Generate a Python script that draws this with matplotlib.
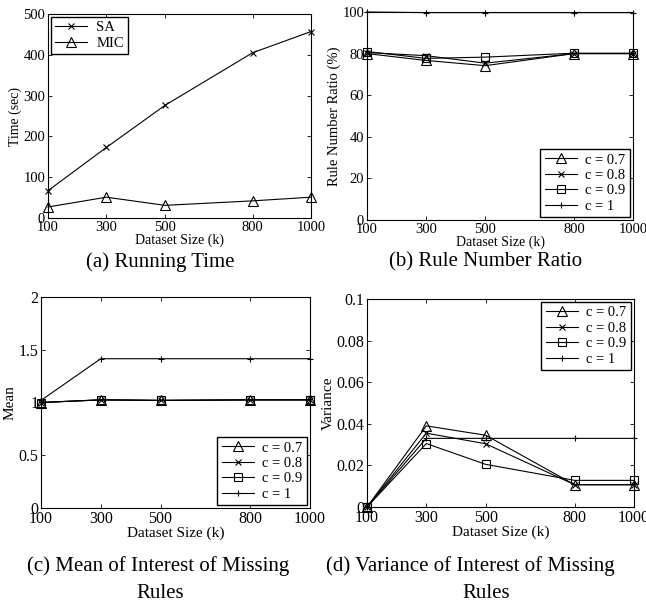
import matplotlib
matplotlib.use("Agg")
import matplotlib.pyplot as plt

plt.rcParams['font.family'] = ['Liberation Serif', 'DejaVu Serif']
plt.rcParams['mathtext.fontset'] = 'stix'

sizes = [100, 300, 500, 800, 1000]

# (a) running time
time_sa = [67, 173, 276, 405, 457]
time_mic = [27, 51, 31, 42, 51]

conf_labels = ['c = 0.7', 'c = 0.8', 'c = 0.9', 'c = 1']

# (b) rule number ratio (%)
ratio = [
    [80.0, 76.7, 74.2, 80.0, 80.0],
    [80.5, 79.0, 75.4, 80.0, 80.0],
    [81.0, 77.7, 78.3, 80.2, 80.2],
    [100.0, 99.7, 99.7, 99.7, 99.7],
]

# (c) mean of interest of missing rules
mean_vals = [
    [1.0, 1.025, 1.02, 1.025, 1.025],
    [1.0, 1.025, 1.02, 1.025, 1.025],
    [1.0, 1.025, 1.02, 1.025, 1.025],
    [1.02, 1.415, 1.415, 1.415, 1.415],
]

# (d) variance of interest of missing rules
var_vals = [
    [0.0, 0.039, 0.0345, 0.0107, 0.0107],
    [0.0, 0.0355, 0.0304, 0.0107, 0.0107],
    [0.0, 0.0305, 0.0205, 0.0128, 0.0128],
    [0.0, 0.033, 0.033, 0.033, 0.033],
]

markers = ['^', 'x', 's', '+']
W, H = 646, 606


def make_ax(fig, l, t, r, b, fs=10.5, lfs=10):
    ax = fig.add_axes([l / W, 1 - b / H, (r - l) / W, (b - t) / H])
    ax.tick_params(direction='in', top=True, right=True, labelsize=fs,
                   pad=2, length=3, width=0.6)
    for s in ax.spines.values():
        s.set_linewidth(0.8)
    ax.set_xlim(100, 1000)
    ax.set_xticks(sizes)
    ax.set_xlabel('Dataset Size (k)', fontsize=lfs, labelpad=0)
    return ax


def draw_series(ax, data):
    for vals, m, lab in zip(data, markers, conf_labels):
        mfc = 'none' if m in ('^', 's') else 'k'
        ms = 6.5 if m == '^' else (5.5 if m == 's' else 5)
        ax.plot(sizes, vals, color='k', lw=0.8, marker=m, ms=ms,
                mfc=mfc, mec='k', mew=0.8, label=lab, clip_on=False)


def legend(ax, loc, fs=10.5):
    lg = ax.legend(loc=loc, fontsize=fs, fancybox=False, edgecolor='k',
                   framealpha=1, borderpad=0.3, labelspacing=0.15,
                   handlelength=2.2, handletextpad=0.6, borderaxespad=0.2)
    lg.get_frame().set_linewidth(1.0)


fig = plt.figure(figsize=(W / 100, H / 100), dpi=100)

# (a)
ax = make_ax(fig, 48, 14, 311, 218)
ax.plot(sizes, time_sa, color='k', lw=0.8, marker='x', ms=5, mew=0.8,
        label='SA', clip_on=False)
ax.plot(sizes, time_mic, color='k', lw=0.8, marker='^', ms=6.5, mfc='none',
        mew=0.8, label='MIC', clip_on=False)
ax.set_ylim(0, 500)
ax.set_yticks([0, 100, 200, 300, 400, 500])
ax.set_ylabel('Time (sec)', fontsize=10, labelpad=1)
legend(ax, 'upper left')

# (b)
ax = make_ax(fig, 367, 12, 633, 220)
draw_series(ax, ratio)
ax.set_ylim(0, 100)
ax.set_yticks([0, 20, 40, 60, 80, 100])
ax.set_ylabel('Rule Number Ratio (%)', fontsize=10.5, labelpad=1)
legend(ax, 'lower right')

# (c)
ax = make_ax(fig, 41, 297, 310, 508, fs=11.5, lfs=11)
draw_series(ax, mean_vals)
ax.set_ylim(0, 2)
ax.set_yticks([0, 0.5, 1, 1.5, 2])
ax.set_yticklabels(['0', '0.5', '1', '1.5', '2'])
ax.set_ylabel('Mean', fontsize=11, labelpad=1)
legend(ax, 'lower right')

# (d)
ax = make_ax(fig, 367, 299, 634, 507, fs=11.5, lfs=11)
draw_series(ax, var_vals)
ax.set_ylim(0, 0.1)
ax.set_yticks([0, 0.02, 0.04, 0.06, 0.08, 0.1])
ax.set_yticklabels(['0', '0.02', '0.04', '0.06', '0.08', '0.1'])
ax.set_ylabel('Variance', fontsize=11, labelpad=1)
legend(ax, 'upper right')

# captions
cap = dict(ha='center', va='center', fontsize=15)
fig.text(160 / W, 1 - 262 / H, '(a) Running Time', **cap)
fig.text(486 / W, 1 - 262 / H, '(b) Rule Number Ratio', **cap)
fig.text(158 / W, 1 - 566 / H, '(c) Mean of Interest of Missing', **cap)
fig.text(160 / W, 1 - 593 / H, 'Rules', **cap)
fig.text(470 / W, 1 - 566 / H, '(d) Variance of Interest of Missing', **cap)
fig.text(486 / W, 1 - 593 / H, 'Rules', **cap)

fig.savefig('out.png', dpi=100)
